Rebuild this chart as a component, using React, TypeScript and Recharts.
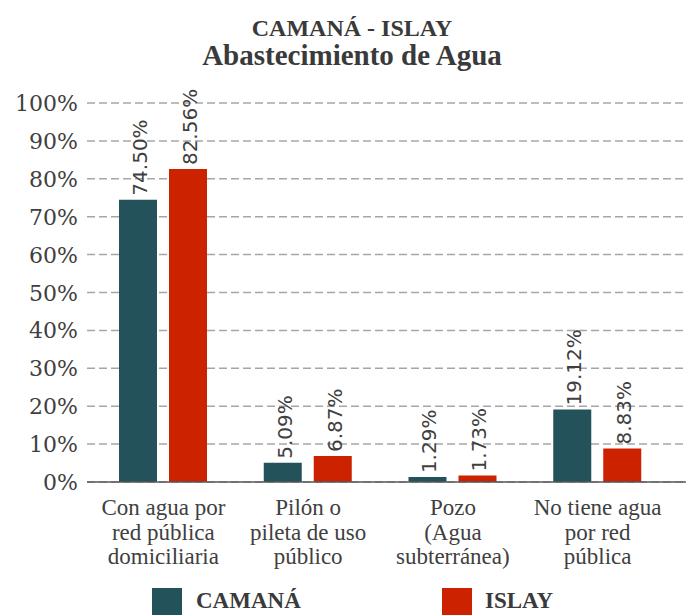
import { BarChart, Bar, XAxis, YAxis, CartesianGrid, LabelList } from 'recharts';

const categories = [
  ['Con agua por', 'red pública', 'domiciliaria'],
  ['Pilón o', 'pileta de uso', 'público'],
  ['Pozo', '(Agua', 'subterránea)'],
  ['No tiene agua', 'por red', 'pública'],
];
const camana = [74.5, 5.09, 1.29, 19.12];
const islay = [82.56, 6.87, 1.73, 8.83];
const yTicks = [0, 10, 20, 30, 40, 50, 60, 70, 80, 90, 100];

const data = categories.map((lines, i) => ({
  name: lines.join(' '),
  camana: camana[i],
  islay: islay[i],
}));
const labelLines: Record<string, string[]> = {};
categories.forEach((lines) => {
  labelLines[lines.join(' ')] = lines;
});

const TEAL = '#23525A';
const RED = '#CC2200';
const TEXT = '#404040';

const YTick = (props: any) => {
  const { y, payload } = props;
  return (
    <text x={78} y={y} dy={8} textAnchor="end" fill={TEXT} style={{ fontFamily: 'DejaVu Serif', fontSize: 22 }}>
      {payload.value}%
    </text>
  );
};

const XTick = (props: any) => {
  const { x, y, payload } = props;
  const lines = labelLines[payload.value] || [payload.value];
  return (
    <text x={x} y={y} textAnchor="middle" fill={TEXT} style={{ fontFamily: 'Liberation Serif', fontSize: 23 }}>
      {lines.map((l, i) => (
        <tspan key={i} x={x} y={y + 25 + i * 24.5}>
          {l}
        </tspan>
      ))}
    </text>
  );
};

const ValueLabel = (props: any) => {
  const { x, y, width, value } = props;
  const cx = x + width / 2 + 9;
  const cy = y - 4;
  return (
    <text
      x={cx}
      y={cy}
      transform={`rotate(-90, ${cx}, ${cy})`}
      textAnchor="start"
      fill={TEXT}
      style={{ fontFamily: 'DejaVu Sans', fontSize: 20 }}
    >
      {Number(value).toFixed(2)}%
    </text>
  );
};

const legendText = {
  position: 'absolute' as const,
  top: 586,
  fontFamily: 'Liberation Serif',
  fontWeight: 'bold' as const,
  fontSize: 23,
  lineHeight: '30px',
  color: '#3a3a3a',
};

export default function App() {
  return (
    <div style={{ position: 'absolute', left: 0, top: 0, width: 686, height: 615, background: '#fff', overflow: 'hidden' }}>
      <svg width={686} height={80} style={{ position: 'absolute', left: 0, top: 0 }}>
        <text x={352} y={36} textAnchor="middle" fill="#3a3a3a" style={{ fontFamily: 'Liberation Serif', fontWeight: 'bold', fontSize: 24 }}>
          CAMANÁ - ISLAY
        </text>
        <text x={352} y={65} textAnchor="middle" fill="#3a3a3a" style={{ fontFamily: 'Liberation Serif', fontWeight: 'bold', fontSize: 29 }}>
          Abastecimiento de Agua
        </text>
      </svg>

      <div style={{ position: 'absolute', left: 0, top: 0 }}>
        <BarChart
          width={686}
          height={615}
          data={data}
          margin={{ top: 103, right: 0, left: 0, bottom: 0 }}
          barSize={38}
          barGap={12}
        >
          <CartesianGrid vertical={false} stroke="#a6a6a6" strokeWidth={1.5} strokeDasharray="8 4" />
          <XAxis
            dataKey="name"
            height={133}
            interval={0}
            tickLine={false}
            axisLine={{ stroke: '#595959', strokeWidth: 1.5 }}
            padding={{ left: 4, right: 16 }}
            tick={<XTick />}
          />
          <YAxis
            width={87}
            domain={[0, 100]}
            ticks={yTicks}
            axisLine={false}
            tickLine={false}
            tick={<YTick />}
          />
          <Bar dataKey="camana" fill={TEAL} isAnimationActive={false}>
            <LabelList dataKey="camana" content={<ValueLabel />} />
          </Bar>
          <Bar dataKey="islay" fill={RED} isAnimationActive={false}>
            <LabelList dataKey="islay" content={<ValueLabel />} />
          </Bar>
        </BarChart>
      </div>

      <div style={{ position: 'absolute', left: 152, top: 588, width: 30, height: 30, background: TEAL }} />
      <div style={{ ...legendText, left: 196 }}>CAMANÁ</div>
      <div style={{ position: 'absolute', left: 442, top: 588, width: 30, height: 30, background: RED }} />
      <div style={{ ...legendText, left: 485 }}>ISLAY</div>
    </div>
  );
}
